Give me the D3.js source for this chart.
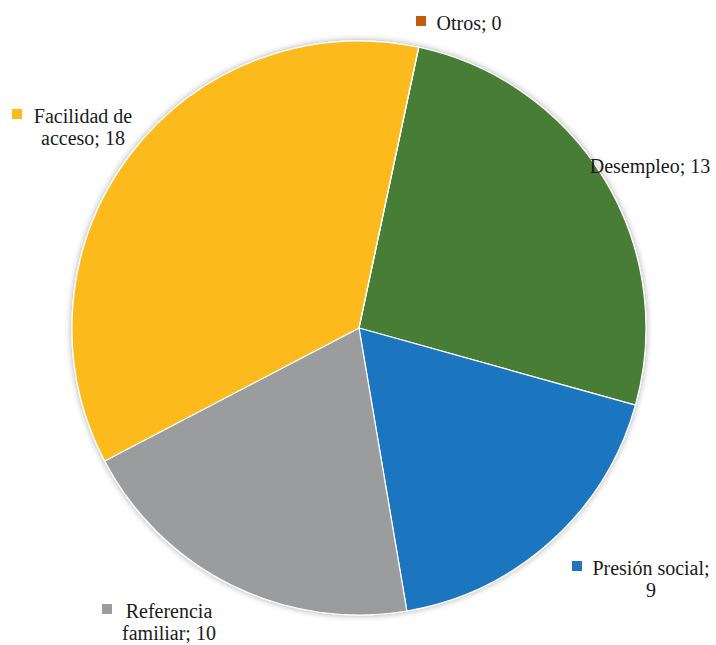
<!DOCTYPE html>
<html>
<head>
<meta charset="utf-8">
<script src="https://cdn.jsdelivr.net/npm/d3@7"></script>
</head>
<body style="margin:0">
<script>
// Tamaño del SVG
const w = 716;
const h = 645;

// Datos
const categorias = ["Desempleo", "Presión social", "Referencia familiar", "Facilidad de acceso", "Otros"];
const valores = [13, 9, 10, 18, 0];
const colores = ["#477d35", "#1f76bf", "#9b9c9e", "#fcba1b", "#c55a11"];

// Etiquetas (líneas de texto por categoría)
const lineas = [
  ["Desempleo; 13"],
  ["Presión social;", "9"],
  ["Referencia", "familiar; 10"],
  ["Facilidad de", "acceso; 18"],
  ["Otros; 0"]
];

// Posición de cada etiqueta: centro x, línea base y, x del cuadrado (null = sin cuadrado)
const posEtiqueta = [
  { x: 650, y: 173, cuadroX: null },
  { x: 651, y: 575, cuadroX: 572 },
  { x: 169, y: 618, cuadroX: 102 },
  { x: 83, y: 123, cuadroX: 12 },
  { x: 469, y: 30, cuadroX: 416 }
];

const cx = 359;
const cy = 328;
const r = 287;
const giro = 12 * Math.PI / 180;

const svg = d3.select("body").append("svg").attr("width", w).attr("height", h);

const datos = categorias.map(function (c, i) {
  return { cat: c, valor: valores[i], color: colores[i], lineas: lineas[i], pos: posEtiqueta[i] };
});

// Una fila por línea de texto
const filas = [];
datos.forEach(function (d) {
  d.lineas.forEach(function (l, i) {
    filas.push({ texto: l, x: d.pos.x, y: d.pos.y + i * 22 });
  });
});

// Sombra suave alrededor del círculo
const defs = svg.append("defs");
const filtro = defs.append("filter").attr("id", "sombra")
  .attr("x", "-10%").attr("y", "-10%").attr("width", "120%").attr("height", "120%");
filtro.append("feDropShadow")
  .attr("dx", 0).attr("dy", 0).attr("stdDeviation", 3)
  .attr("flood-color", "#000").attr("flood-opacity", 0.35);

const pie = d3.pie()
  .value(function (d) { return d.valor; })
  .sort(null)
  .startAngle(giro)
  .endAngle(giro + 2 * Math.PI);

const arc = d3.arc().innerRadius(0).outerRadius(r);

const g = svg.append("g").attr("transform", "translate(" + cx + "," + cy + ")");

g.append("g").attr("filter", "url(#sombra)")
  .selectAll("path")
  .data(pie(datos))
  .enter()
  .append("path")
  .attr("d", arc)
  .attr("fill", function (d) { return d.data.color; })
  .attr("stroke", "#fff")
  .attr("stroke-width", 1.2)
  .attr("stroke-linejoin", "round");

// Textos
svg.selectAll("text")
  .data(filas)
  .enter()
  .append("text")
  .attr("x", function (d) { return d.x; })
  .attr("y", function (d) { return d.y; })
  .style("font-family", "'Liberation Serif'")
  .attr("font-size", 20)
  .attr("fill", "#1a1a1a")
  .attr("text-anchor", "middle")
  .text(function (d) { return d.texto; });

// Cuadrados de leyenda
svg.selectAll("rect.cuadro")
  .data(datos.filter(function (d) { return d.pos.cuadroX !== null; }))
  .enter()
  .append("rect")
  .attr("class", "cuadro")
  .attr("x", function (d) { return d.pos.cuadroX; })
  .attr("y", function (d) { return d.pos.y - 14; })
  .attr("width", 10)
  .attr("height", 10)
  .attr("fill", function (d) { return d.color; });
</script>
</body>
</html>
